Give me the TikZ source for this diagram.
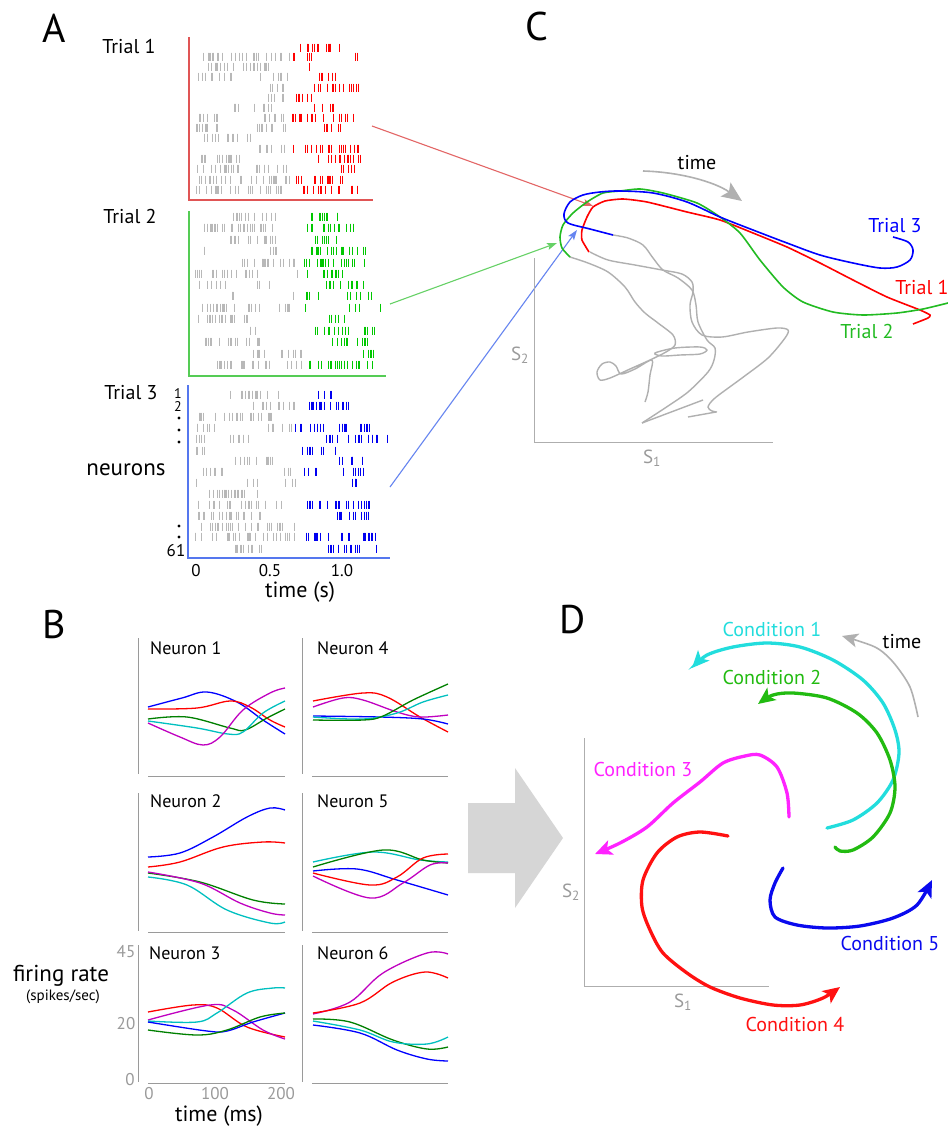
\documentclass[tikz,border=0pt]{standalone}
\usepackage{fontspec}
\setmainfont{PT Sans}
\usetikzlibrary{arrows.meta}
\definecolor{spkgray}{HTML}{B8B8B8}
\definecolor{spkred}{HTML}{FF0000}
\definecolor{spkgreen}{HTML}{00C800}
\definecolor{spkblue}{HTML}{0000F0}
\definecolor{axred}{HTML}{E05555}
\definecolor{axgreen}{HTML}{55CC55}
\definecolor{axblue}{HTML}{5577EE}
\definecolor{axgray}{HTML}{9A9A9A}
\definecolor{trajgray}{HTML}{B0B0B0}
\definecolor{cblue}{HTML}{0000FF}
\definecolor{cred}{HTML}{FF0000}
\definecolor{cgreen}{HTML}{008000}
\definecolor{ccyan}{HTML}{00C0C0}
\definecolor{cmag}{HTML}{C000C0}
\definecolor{tgreen}{HTML}{22BB22}
\definecolor{dcyan}{HTML}{22DDDD}
\definecolor{dgreen}{HTML}{22BB11}
\definecolor{dmag}{HTML}{FF22FF}
\definecolor{dred}{HTML}{FF1111}
\definecolor{dblue}{HTML}{0A0AEE}
\definecolor{bigarrow}{HTML}{D6D6D6}
\newcommand\spk[4]{%
  \pgfmathtruncatemacro\nsp{max(1,(#3-#2)/3.4)}%
  \foreach \k in {1,...,\nsp}{%
    \pgfmathsetmacro\sx{#2+rnd*(#3-#2)}%
    \draw[#4] (\sx,#1-4.3) -- (\sx,#1+4.3);}}
\tikzset{
  lbl/.style={inner sep=0pt, font=\fontsize{20}{24}\selectfont},
  panel/.style={inner sep=0pt, font=\fontsize{40}{48}\selectfont},
  small/.style={inner sep=0pt, font=\fontsize{17}{20}\selectfont},
  rowno/.style={inner sep=0pt, font=\fontsize{14}{16}\selectfont},
  neur/.style={inner sep=0pt, anchor=west, font=\fontsize{18}{22}\selectfont},
  gspk/.style={draw=spkgray, line width=1pt},
  rspk/.style={draw=spkred, line width=1pt},
  grspk/.style={draw=spkgreen, line width=1pt},
  bspk/.style={draw=spkblue, line width=1pt},
  axisl/.style={draw=axgray, line width=1pt},
  fr/.style={line width=1.3pt},
  traj/.style={line width=1.6pt},
  gtraj/.style={draw=trajgray, line width=1.4pt},
  cond/.style={line width=3.3pt, line cap=round, -{Stealth[length=17pt,width=15pt,inset=4pt]}},
  link/.style={line width=1.1pt, -{Stealth[length=10pt,width=7pt,inset=2pt]}},
}
\begin{document}
\begin{tikzpicture}[x=1pt,y=-1pt]
\useasboundingbox (0,0) rectangle (948,1128);
\fill[white] (0,0) rectangle (948,1128);
\pgfmathsetseed{7}
%================ Panel A ================
\node[panel] (labA) at (54,28) {A};
\node[lbl] (tr1) at (129,46) {Trial 1};
\node[lbl] (tr2) at (130,216) {Trial 2};
\node[lbl] (tr3) at (131,393) {Trial 3};
% Trial 1 raster
\foreach \y/\a/\b in {57/198/293, 67/197/270, 77/196/233, 77/260/290, 88/262/285, 98/268/288, 108/233/272, 118/196/225, 118/263/288, 128/196/227, 128/255/287, 138/200/257, 149/258/288, 159/200/252, 169/196/290, 180/199/290, 190/196/283} {\spk{\y}{\a}{\b}{gspk}}
\foreach \y/\a/\b in {48/295/345, 57/292/312, 57/353/360, 67/307/310, 77/313/337, 88/312/368, 98/292/313, 108/313/335, 118/290/355, 128/322/343, 149/293/360, 159/313/363, 169/340/358, 180/294/345, 190/299/363} {\spk{\y}{\a}{\b}{rspk}}
\draw[draw=axred, line width=1.3pt] (189,37) -- (189,200) -- (373,200);
% Trial 2 raster
\foreach \y/\a/\b in {217/233/277, 228/194/303, 240/227/277, 251/198/205, 251/268/282, 263/233/303, 274/195/265, 274/296/298, 285/198/227, 285/257/273, 296/227/238, 296/293/298, 308/198/263, 308/278/300, 319/198/263, 331/250/262, 342/195/262, 354/253/302, 365/215/302} {\spk{\y}{\a}{\b}{gspk}}
\foreach \y/\a/\b in {217/307/342, 228/303/360, 240/308/337, 251/303/368, 263/303/365, 274/307/343, 285/325/367, 296/305/320, 296/347/372, 308/305/307, 308/347/360, 308/379/381, 319/327/345, 331/315/375, 342/332/375, 354/358/375, 365/300/373} {\spk{\y}{\a}{\b}{grspk}}
\draw[draw=axgreen, line width=1.3pt] (189,211) -- (189,376) -- (386,376);
% Trial 3 raster
\foreach \y/\a/\b in {395/228/283, 406/253/297, 417/197/273, 428/195/220, 428/262/293, 439/193/208, 439/225/250, 451/195/210, 461/234/275, 472/195/223, 472/283/297, 483/196/198, 483/247/260, 483/285/297, 494/198/265, 505/198/282, 516/195/267, 527/200/295, 537/195/297, 549/225/272} {\spk{\y}{\a}{\b}{gspk}}
\foreach \y/\a/\b in {395/318/332, 406/299/355, 428/295/370, 439/318/388, 451/299/325, 451/334/336, 461/337/367, 472/302/318, 472/342/365, 483/343/360, 505/300/380, 516/335/380, 537/303/378, 549/327/380} {\spk{\y}{\a}{\b}{bspk}}
\draw[draw=axblue, line width=1.3pt] (188,385) -- (188,558) -- (390,558);
% row labels
\node[rowno] (n1) at (178,394) {1};
\node[rowno] (n2) at (178,407) {2};
\fill (179,418) circle (1.6pt) (179,430) circle (1.6pt) (179,442) circle (1.6pt);
\fill (179,526) circle (1.6pt) (179,537) circle (1.6pt);
\node[small] (n61) at (176,551) {61};
\node[inner sep=0pt, font=\fontsize{23}{26}\selectfont] (neur) at (126,470) {neurons};
\node[small] (t0) at (196,571) {0};
\node[small] (t05) at (270,571) {0.5};
\node[small] (t10) at (342,571) {1.0};
\node[inner sep=0pt, font=\fontsize{22}{26}\selectfont] (tsec) at (300,592) {time (s)};
% links from A to C
\coordinate (r1s) at (372,126); \coordinate (r1e) at (593,206);
\coordinate (g1s) at (390,304); \coordinate (g1e) at (557,243);
\coordinate (b1s) at (390,487); \coordinate (b1e) at (577,230);
\draw[link, draw=axred!90] (r1s) -- (r1e);
\draw[link, draw=axgreen!90] (g1s) -- (g1e);
\draw[link, draw=axblue!90] (b1s) -- (b1e);
%================ Panel C ================
\node[panel] (labC) at (537,26) {C};
\draw[axisl, draw=axgray!80] (534,258) -- (534,442) -- (773,442);
\node[inner sep=0pt, text=axgray, font=\fontsize{19}{22}\selectfont] (cs2) at (520,355) {S\textsubscript{2}};
\node[inner sep=0pt, text=axgray, font=\fontsize{19}{22}\selectfont] (cs1) at (652,458) {S\textsubscript{1}};
% gray trajectories
\draw[gtraj] plot[smooth, tension=0.5] coordinates {(570,257) (588,263) (608,272) (625,287) (635,302) (645,313) (658,323) (673,335) (675,345) (666,352) (650,360) (630,369) (610,378) (600,380) (597,372) (602,364) (610,362) (616,366) (621,374) (635,369) (652,360) (650,375) (648,392) (645,402)};
\draw[gtraj] plot[smooth cycle, tension=0.5] coordinates {(655,353) (675,348) (700,347) (707,350) (700,354) (680,355) (662,356)};
\draw[gtraj] plot[smooth, tension=0.5] coordinates {(590,252) (608,260) (635,265) (662,270) (682,274) (692,282) (693,292) (690,305) (692,322) (702,335) (722,337) (748,332) (777,328) (788,330) (785,338) (768,358) (742,378) (715,398) (708,407) (712,411) (717,412)};
\draw[gtraj] (688,417) -- (716,412);
\draw[gtraj] plot[smooth, tension=0.5] coordinates {(613,235) (628,238) (643,245) (653,258) (663,270) (678,278) (692,290) (696,305) (698,322) (707,340) (715,348) (714,360) (708,372) (688,392) (665,408) (642,423)};
\draw[gtraj] (642,423) -- (703,400);
% trial trajectories
\draw[traj, draw=cred] plot[smooth, tension=0.35] coordinates {(589,252) (582,240) (582,230) (587,217) (593,207) (605,201) (623,199) (647,202) (687,212) (720,220) (753,233) (787,247) (820,263) (853,280) (887,297) (920,310) (930,315) (928,318) (913,324)};
\draw[traj, draw=tgreen] plot[smooth, tension=0.4] coordinates {(570,257) (562,248) (560,237) (563,225) (573,213) (587,202) (603,193) (620,191) (640,189) (663,193) (697,203) (720,217) (740,233) (760,260) (783,287) (803,302) (833,312) (863,315) (897,313) (923,309) (948,303)};
\draw[traj, draw=cblue] plot[smooth, tension=0.5] coordinates {(613,235) (590,229) (568,223) (564,214) (570,202) (583,195) (600,192) (620,191) (653,193) (687,202) (720,217) (753,230) (787,243) (820,255) (853,263) (880,268) (897,267) (910,260) (913,250) (908,242) (893,237)};
\node[lbl, text=cblue] (lt3) at (895,226) {Trial 3};
\node[lbl, text=cred] (lt1) at (922,287) {Trial 1};
\node[lbl, text=tgreen] (lt2) at (867,331) {Trial 2};
\node[lbl] (ctime) at (697,163) {time};
\coordinate (cts) at (643,171); \coordinate (cte) at (742,201);
\draw[draw=trajgray, line width=1.6pt, -{Stealth[length=20pt,width=17pt,inset=4pt]}] (cts) .. controls (680,172) and (715,182) .. (cte);
%================ Panel B ================
\node[panel] (labB) at (54,624) {B};
% axes
\foreach \xa/\xb/\xc in {138/148/285, 302/312/448}{
  \draw[axisl] (\xa,638) -- (\xa,774);
  \draw[axisl] (\xb,776) -- (\xc,776);
  \draw[axisl] (\xa,793) -- (\xa,931);
  \draw[axisl] (\xb,932) -- (\xc,932);
  \draw[axisl] (\xa,945) -- (\xa,1082);
  \draw[axisl] (\xb,1083) -- (\xc,1083);
}
\node[neur] (ne1) at (150,648) {Neuron 1};
\node[neur] (ne4) at (317,648) {Neuron 4};
\node[neur] (ne2) at (150,801) {Neuron 2};
\node[neur] (ne5) at (317,801) {Neuron 5};
\node[neur] (ne3) at (149,953) {Neuron 3};
\node[neur] (ne6) at (317,953) {Neuron 6};
% Neuron 1
\draw[fr, cblue] plot[smooth, tension=0.6] coordinates {(148,707) (182,698) (207,692) (237,702) (263,720) (285,734)};
\draw[fr, cred] plot[smooth, tension=0.6] coordinates {(148,709) (197,708) (230,701) (250,707) (270,720) (285,727)};
\draw[fr, cgreen] plot[smooth, tension=0.6] coordinates {(148,719) (187,717) (230,728) (245,730) (267,718) (285,709)};
\draw[fr, ccyan] plot[smooth, tension=0.6] coordinates {(148,721) (197,728) (228,734) (243,732) (263,713) (285,701)};
\draw[fr, cmag] plot[smooth, tension=0.6] coordinates {(148,723) (180,737) (203,745) (220,737) (243,710) (270,693) (285,688)};
% Neuron 4
\draw[fr, cred] plot[smooth, tension=0.6] coordinates {(313,701) (363,693) (387,697) (420,717) (448,732)};
\draw[fr, cmag] plot[smooth, tension=0.6] coordinates {(313,707) (343,698) (363,700) (397,712) (420,717) (448,715)};
\draw[fr, cblue] plot[smooth, tension=0.6] coordinates {(313,716) (380,717) (423,719) (448,724)};
\draw[fr, ccyan] plot[smooth, tension=0.6] coordinates {(313,717) (363,719) (397,713) (423,702) (448,695)};
\draw[fr, cgreen] plot[smooth, tension=0.6] coordinates {(313,720) (363,720) (383,716) (413,700) (448,684)};
% Neuron 2
\draw[fr, cblue] plot[smooth, tension=0.6] coordinates {(148,857) (180,853) (213,837) (247,817) (270,808) (285,810)};
\draw[fr, cred] plot[smooth, tension=0.6] coordinates {(148,867) (180,862) (223,847) (263,842) (285,843)};
\draw[fr, cgreen] plot[smooth, tension=0.6] coordinates {(148,873) (200,882) (253,900) (285,904)};
\draw[fr, cmag] plot[smooth, tension=0.6] coordinates {(148,872) (200,883) (240,903) (270,913) (285,915)};
\draw[fr, ccyan] plot[smooth, tension=0.6] coordinates {(148,877) (187,885) (227,910) (270,923) (285,922)};
% Neuron 5
\draw[fr, ccyan] plot[smooth, tension=0.6] coordinates {(313,862) (373,852) (420,860) (448,862)};
\draw[fr, cgreen] plot[smooth, tension=0.6] coordinates {(313,867) (383,850) (423,860) (448,863)};
\draw[fr, cblue] plot[smooth, tension=0.6] coordinates {(313,871) (357,869) (397,880) (448,895)};
\draw[fr, cred] plot[smooth, tension=0.6] coordinates {(313,873) (370,885) (397,877) (423,858) (448,854)};
\draw[fr, cmag] plot[smooth, tension=0.6] coordinates {(313,876) (370,898) (403,883) (430,865) (448,863)};
% Neuron 3
\draw[fr, cred] plot[smooth, tension=0.6] coordinates {(148,1012) (193,1005) (217,1008) (247,1027) (285,1037)};
\draw[fr, cmag] plot[smooth, tension=0.6] coordinates {(148,1020) (210,1005) (233,1010) (263,1030) (285,1039)};
\draw[fr, ccyan] plot[smooth, tension=0.6] coordinates {(148,1021) (197,1022) (217,1013) (247,993) (273,988) (285,988)};
\draw[fr, cblue] plot[smooth, tension=0.6] coordinates {(148,1022) (207,1031) (227,1031) (253,1022) (285,1013)};
\draw[fr, cgreen] plot[smooth, tension=0.6] coordinates {(148,1030) (197,1035) (227,1030) (260,1017) (285,1013)};
% Neuron 6
\draw[fr, cmag] plot[smooth, tension=0.6] coordinates {(313,1014) (350,1002) (383,973) (427,953) (448,954)};
\draw[fr, cred] plot[smooth, tension=0.6] coordinates {(313,1013) (360,1003) (393,982) (425,972) (448,978)};
\draw[fr, cgreen] plot[smooth, tension=0.6] coordinates {(313,1019) (350,1022) (393,1040) (427,1049) (448,1047)};
\draw[fr, ccyan] plot[smooth, tension=0.6] coordinates {(313,1021) (360,1030) (393,1042) (427,1044) (448,1037)};
\draw[fr, cblue] plot[smooth, tension=0.6] coordinates {(313,1025) (360,1033) (397,1050) (427,1059) (448,1061)};
% B labels
\node[small, text=axgray] (y45) at (126,952) {45};
\node[small, text=axgray] (y20) at (126,1024) {20};
\node[small, text=axgray] (y0) at (130,1080) {0};
\node[small, text=axgray] (x0) at (149,1094) {0};
\node[small, text=axgray] (x100) at (215,1094) {100};
\node[small, text=axgray] (x200) at (281,1094) {200};
\node[inner sep=0pt, font=\fontsize{22}{26}\selectfont] (tms) at (219,1116) {time (ms)};
\node[inner sep=0pt, font=\fontsize{23}{26}\selectfont] (frate) at (61,976) {firing rate};
\node[inner sep=0pt, font=\fontsize{15}{18}\selectfont] (sps) at (63,997) {(spikes/sec)};
% big gray arrow
\fill[bigarrow] (468,803) -- (515,803) -- (515,768) -- (563,838) -- (515,908) -- (515,873) -- (468,873) -- cycle;
\node[inner sep=0pt] (bigarr) at (515,838) {};
%================ Panel D ================
\node[panel] (labD) at (573,620) {D};
\draw[axisl, draw=axgray!80] (584,738) -- (584,986) -- (769,986);
\node[inner sep=0pt, text=axgray, font=\fontsize{19}{22}\selectfont] (ds2) at (571,892) {S\textsubscript{2}};
\node[inner sep=0pt, text=axgray, font=\fontsize{19}{22}\selectfont] (ds1) at (683,1002) {S\textsubscript{1}};
\draw[cond, draw=dcyan] plot[smooth, tension=0.5] coordinates {(827,828) (853,820) (877,803) (893,780) (899,753) (895,730) (883,703) (863,680) (833,660) (800,647) (767,643) (733,647) (707,655) (692,668)};
\draw[cond, draw=dgreen] plot[smooth, tension=0.5] coordinates {(835,847) (840,851) (853,850) (873,837) (890,813) (895,787) (890,760) (877,733) (857,713) (827,698) (793,693) (773,695) (758,704)};
\draw[cond, draw=dmag] plot[smooth, tension=0.5] coordinates {(789,817) (787,793) (777,767) (760,755) (745,756) (723,763) (700,782) (673,803) (647,827) (620,843) (595,854)};
\draw[cond, draw=dred] plot[smooth, tension=0.5] coordinates {(728,836) (700,832) (677,837) (657,853) (643,880) (642,907) (650,930) (663,953) (687,973) (710,987) (740,998) (773,1005) (800,1005) (823,998) (840,987)};
\draw[cond, draw=dblue] plot[smooth, tension=0.5] coordinates {(783,868) (775,883) (770,900) (775,917) (797,925) (827,928) (860,926) (893,918) (917,905) (932,880)};
\draw[draw=trajgray, line width=1.6pt, -{Stealth[length=16pt,width=14pt,inset=4pt]}] plot[smooth, tension=0.5] coordinates {(918,717) (910,687) (893,662) (875,647) (842,636)};
\node[lbl, text=dcyan] (c1) at (772,629) {Condition 1};
\node[lbl] (dtime) at (902,642) {time};
\node[lbl, text=dgreen] (c2) at (772,677) {Condition 2};
\node[lbl, text=dmag] (c3) at (643,769) {Condition 3};
\node[lbl, text=dblue] (c5) at (890,943) {Condition 5};
\node[lbl, text=dred] (c4) at (795,1024) {Condition 4};
\end{tikzpicture}
\end{document}
